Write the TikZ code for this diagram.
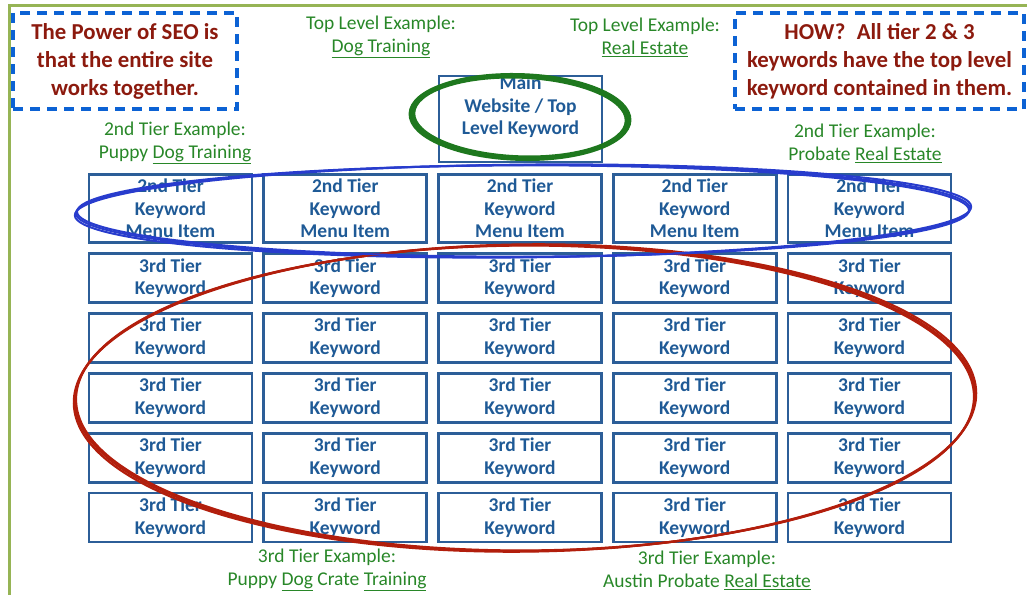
\documentclass[tikz,border=0pt]{standalone}
\usepackage{fontspec}
\setmainfont{Carlito}
\definecolor{framegreen}{RGB}{150,180,85}
\definecolor{dashblue}{RGB}{12,98,212}
\definecolor{boxblue}{RGB}{44,94,152}
\definecolor{keyblue}{RGB}{31,90,150}
\definecolor{notered}{RGB}{140,26,14}
\definecolor{exgreen}{RGB}{40,135,40}
\definecolor{ringgreen}{RGB}{30,120,30}
\definecolor{ringblue}{RGB}{40,60,205}
\definecolor{ringred}{RGB}{178,30,12}
\tikzset{
  tierbox/.style={draw=boxblue, line width=2.6pt, minimum width=163pt, inner sep=0pt,
    text=keyblue, align=center, font=\bfseries\fontsize{19.5}{22.5}\selectfont},
  notebox/.style={draw=dashblue, line width=4pt, dash pattern=on 10pt off 7pt, inner sep=0pt,
    text=notered, align=center, font=\bfseries\fontsize{22.8}{28}\selectfont},
  example/.style={text=exgreen, align=center, font=\fontsize{19.5}{23}\selectfont},
}
\begin{document}
\begin{tikzpicture}[x=1pt,y=-1pt]
\useasboundingbox (0,0) rectangle (1027,594);
\draw[framegreen, line width=3pt] (9,620) |- (1040,6);
% notes at the top
\node[notebox, minimum width=224pt, minimum height=96pt] (note-l) at (125,61)
  {The Power of SEO is\\that the entire site\\works together.};
\node[notebox, minimum width=289pt, minimum height=96pt] (note-r) at (879.5,61)
  {HOW?\enspace All tier 2 \& 3\\keywords have the top level\\keyword contained in them.};
% examples
\node[example] (top-dog) at (381,37) {Top Level Example:\\\underline{Dog Training}};
\node[example] (top-re) at (645,37) {Top Level Example:\\\underline{Real Estate}};
\node[example] (ex2-l) at (175,143) {2nd Tier Example:\\Puppy \underline{Dog Training}};
\node[example] (ex2-r) at (865,143) {2nd Tier Example:\\Probate \underline{Real Estate}};
\node[example] (ex3-l) at (327,570) {3rd Tier Example:\\Puppy \underline{Dog} Crate \underline{Training}};
\node[example] (ex3-r) at (707,570) {3rd Tier Example:\\Austin Probate \underline{Real Estate}};
% the boxes
\node[tierbox, minimum height=86pt] (main) at (520.5,119) {};
\node[text=keyblue, align=center, font=\bfseries\fontsize{19.5}{22.5}\selectfont] (main-txt) at (520.5,107)
  {Main\\Website / Top\\Level Keyword};
\foreach \c in {1,...,5}{
  \node[tierbox, minimum height=68pt] (t2-\c) at ({170.5+(\c-1)*174.75},208.5)
    {2nd Tier\\Keyword\\Menu Item};
  \foreach \r in {1,...,5}{
    \node[tierbox, minimum height=49pt] (t3-\r-\c) at ({170.5+(\c-1)*174.75},{278+(\r-1)*59.9})
      {3rd Tier\\Keyword};
  }
}
% rings drawn by hand
\foreach \dr/\da in {0/0, 1.2/0.25, -1/-0.2}{
  \draw[ringred, line width=2.2pt, rotate around={{0.4+\da}:(525,398)}]
    (525,398) ellipse [x radius={450+\dr}, y radius={153+\dr/2}];
  \draw[ringblue, line width=2pt, rotate around={{0.3+\da}:(523,211)}]
    (523,211) ellipse [x radius={447+\dr}, y radius={46+\dr/3}];
  \draw[ringgreen, line width=3.4pt, rotate around={{-2+\da}:(520,117)}]
    (520,117) ellipse [x radius={108+1.5*\dr}, y radius={41+\dr}];
}
\end{tikzpicture}
\end{document}
